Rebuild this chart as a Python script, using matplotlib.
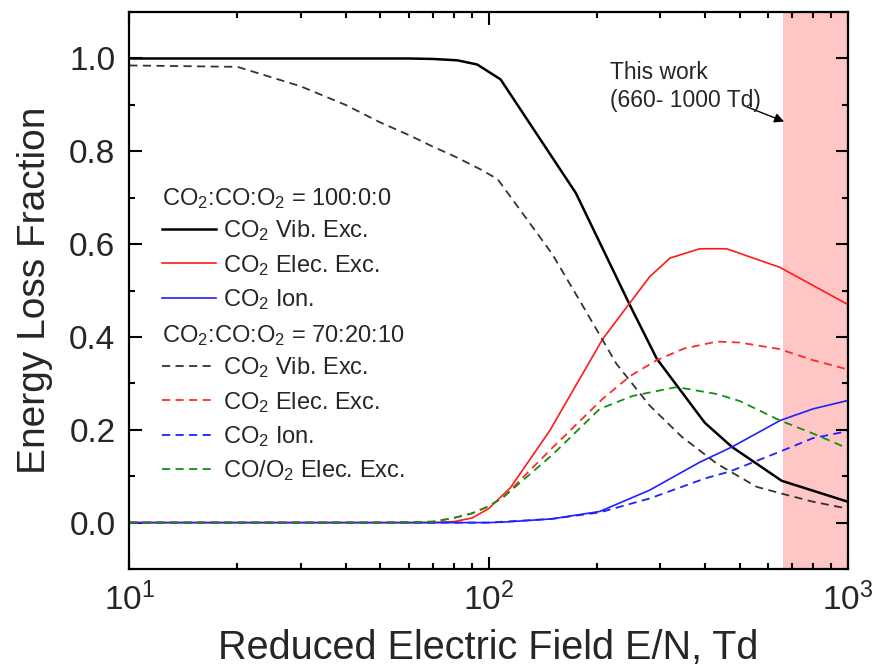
import numpy as np
import matplotlib
matplotlib.use("Agg")
import matplotlib.pyplot as plt
from matplotlib.ticker import MultipleLocator, LogLocator, NullFormatter

plt.rcParams["font.family"] = ["Liberation Sans", "DejaVu Sans"]
plt.rcParams["mathtext.fontset"] = "custom"
plt.rcParams["mathtext.rm"] = "Liberation Sans"
plt.rcParams["mathtext.default"] = "regular"

# CO2:CO:O2 = 100:0:0
E_vib = [10, 20, 40, 60, 70, 82, 93, 108, 175, 248, 294, 400, 476, 655, 1000]
vib = [1.0, 1.0, 1.0, 1.0, 0.999, 0.996, 0.987, 0.955, 0.71, 0.467, 0.353, 0.215, 0.163, 0.09, 0.045]

E_elec = [10, 40, 70, 80, 90, 100, 115, 148, 208, 281, 320, 387, 460, 647, 1000]
elec = [0.0, 0.0, 0.0, 0.002, 0.01, 0.03, 0.075, 0.198, 0.396, 0.53, 0.57, 0.59, 0.59, 0.55, 0.47]

E_ion = [10, 50, 100, 110, 150, 204, 281, 387, 476, 648, 800, 1000]
ion = [0.0, 0.0, 0.0, 0.001, 0.008, 0.024, 0.07, 0.13, 0.163, 0.22, 0.245, 0.263]

# CO2:CO:O2 = 70:20:10
E_vib2 = [10, 20, 30, 40, 50, 60, 70, 80, 95, 106, 150, 182, 227, 281, 345, 432, 558, 658, 800, 1000]
vib2 = [0.985, 0.982, 0.94, 0.9, 0.862, 0.835, 0.81, 0.79, 0.761, 0.74, 0.58, 0.47, 0.342, 0.252, 0.185, 0.127, 0.077, 0.062, 0.045, 0.03]

E_elec2 = [10, 50, 70, 80, 90, 100, 110, 150, 208, 248, 294, 350, 432, 500, 645, 800, 1000]
elec2 = [0.0, 0.0, 0.002, 0.01, 0.02, 0.035, 0.055, 0.16, 0.267, 0.316, 0.35, 0.375, 0.39, 0.388, 0.374, 0.35, 0.33]

E_ion2 = [10, 50, 100, 150, 204, 281, 400, 469, 648, 800, 1000]
ion2 = [0.0, 0.0, 0.0, 0.008, 0.022, 0.052, 0.095, 0.11, 0.153, 0.182, 0.197]

E_co = [10, 50, 70, 80, 90, 100, 110, 150, 204, 252, 334, 432, 500, 648, 800, 1000]
co = [0.0, 0.0, 0.002, 0.01, 0.02, 0.035, 0.055, 0.145, 0.245, 0.273, 0.292, 0.277, 0.262, 0.22, 0.192, 0.16]

work_range = (660, 1000)

txt = "#262626"

fig = plt.figure(figsize=(8.74, 6.71), dpi=100)
ax = fig.add_axes([0.148, 0.152, 0.822, 0.830])

ax.axvspan(*work_range, color="#ffc6c6", lw=0, zorder=0)

dash = (0, (4.5, 3))
l1, = ax.plot(E_vib, vib, color="black", lw=1.8, label="CO$_2$ Vib. Exc.")
l2, = ax.plot(E_elec, elec, color="#ff1a1a", lw=1.2, label="CO$_2$ Elec. Exc.")
l3, = ax.plot(E_ion, ion, color="#2020ff", lw=1.2, label="CO$_2$ Ion.")
d1, = ax.plot(E_vib2, vib2, color="#333333", lw=1.3, ls=dash, label="CO$_2$ Vib. Exc.")
d2, = ax.plot(E_elec2, elec2, color="#ff2a2a", lw=1.3, ls=dash, label="CO$_2$ Elec. Exc.")
d3, = ax.plot(E_ion2, ion2, color="#2020ff", lw=1.3, ls=dash, label="CO$_2$ Ion.")
d4, = ax.plot(E_co, co, color="#109010", lw=1.3, ls=dash, label="CO/O$_2$ Elec. Exc.")

ax.set_xscale("log")
ax.set_xlim(10, 1000)
ax.set_ylim(-0.1, 1.1)
ax.yaxis.set_major_locator(MultipleLocator(0.2))
ax.yaxis.set_minor_locator(MultipleLocator(0.1))
ax.xaxis.set_minor_locator(LogLocator(base=10, subs=np.arange(2, 10)))
ax.xaxis.set_minor_formatter(NullFormatter())

ax.tick_params(which="both", direction="in", top=True, right=True, width=1.5,
               labelsize=24, labelcolor=txt)
ax.tick_params(which="major", length=9, pad=10)
ax.tick_params(which="minor", length=4.5)
for s in ax.spines.values():
    s.set_linewidth(1.6)

ax.set_xlabel("Reduced Electric Field E/N, Td", fontsize=28.5, color=txt, labelpad=8)
ax.set_ylabel("Energy Loss Fraction", fontsize=28, color=txt, labelpad=12)

leg_kw = dict(frameon=False, fontsize=17, handlelength=2.25, handletextpad=0.3,
              labelspacing=0.4, borderpad=0, borderaxespad=0, alignment="left",
              title_fontsize=17, loc="upper left")
leg1 = ax.legend(handles=[l1, l2, l3], title="CO$_2$:CO:O$_2$ = 100:0:0",
                 bbox_to_anchor=(0.046, 0.688), **leg_kw)
ax.add_artist(leg1)
leg2 = ax.legend(handles=[d1, d2, d3, d4], title="CO$_2$:CO:O$_2$ = 70:20:10",
                 bbox_to_anchor=(0.046, 0.442), **leg_kw)
for lg in (leg1, leg2):
    lg.get_title().set_color(txt)
    lg._legend_box.sep = 5.5
    for t in lg.get_texts():
        t.set_color(txt)

ax.annotate("", xy=(676, 0.862), xytext=(515, 0.898),
            arrowprops=dict(arrowstyle="-|>", color="black", lw=1.0, mutation_scale=14))
ax.text(218, 0.94, "This work\n(660- 1000 Td)", fontsize=16.5, ha="left", va="center",
        linespacing=1.3, color=txt)

fig.savefig("out.png", dpi=100)
